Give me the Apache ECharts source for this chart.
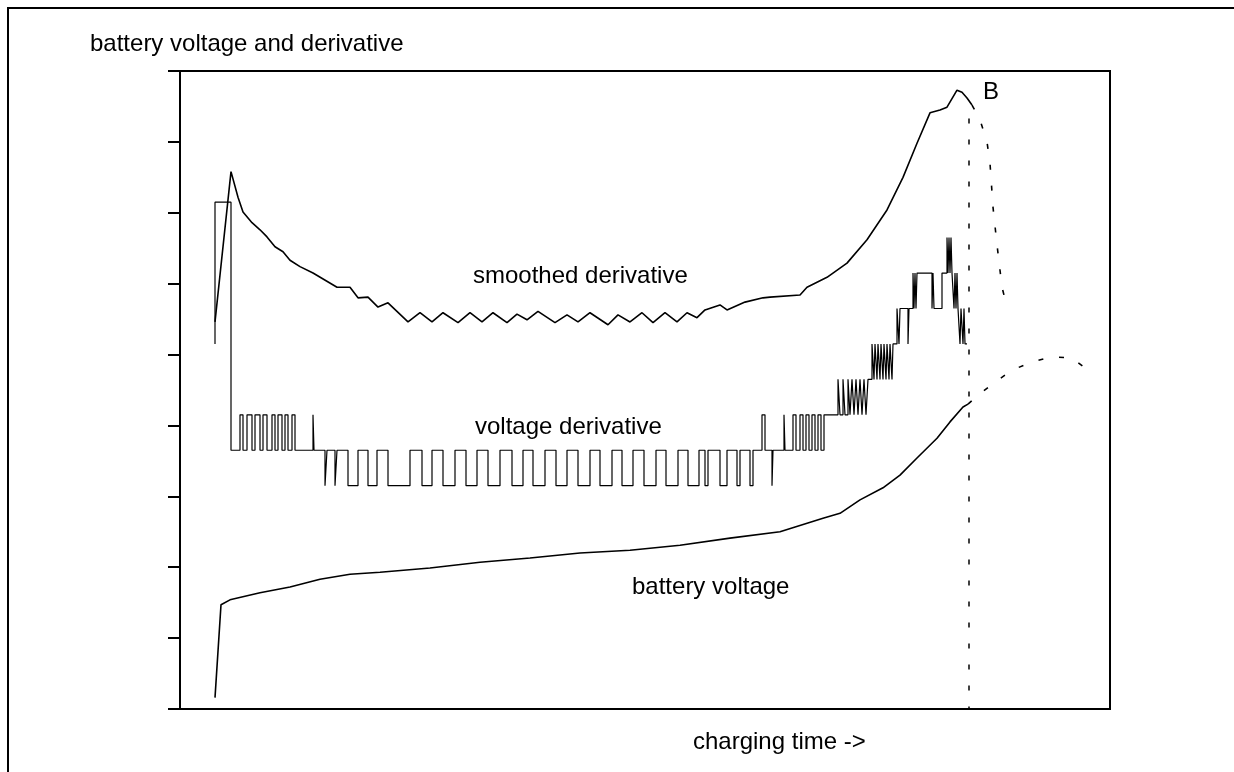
<!DOCTYPE html>
<html>
<head>
<meta charset="utf-8">
<script src="https://cdn.jsdelivr.net/npm/echarts@6/dist/echarts.min.js"></script>
<style>
html,body{margin:0;padding:0;background:#fff}
#chart{width:1234px;height:772px}
</style>
</head>
<body>
<div id="chart"></div>
<script>
// charging time in arbitrary units (0..93), values in axis tick units (0..9)
var voltX = [3.5,4.1,5.0,8.0,11.0,14.0,17.0,20.0,25.0,30.0,35.0,40.0,45.0,50.0,55.0,60.0,64.3,66.0,68.0,70.3,72.0,73.7,75.7,77.0,78.3,78.8];
var voltY = [0.16,1.47,1.54,1.64,1.72,1.83,1.90,1.93,1.99,2.07,2.13,2.20,2.24,2.31,2.41,2.50,2.69,2.76,2.95,3.12,3.30,3.54,3.82,4.05,4.26,4.30];
var voltDashX = [78.8,79.8,81.5,83.2,85.1,87.2,89.2,90.8];
var voltDashY = [4.30,4.43,4.61,4.78,4.89,4.97,4.95,4.78];

var smoothX = [3.5,5.1,5.8,6.3,7.2,8.0,8.7,9.5,10.3,11.0,12.0,13.3,15.7,17.0,17.8,18.8,19.8,20.8,22.8,24.0,25.2,26.3,27.8,29.0,30.2,31.3,32.7,33.7,34.7,35.8,37.5,38.7,39.8,41.0,42.8,43.8,45.0,46.2,47.3,48.5,49.7,50.7,51.7,52.5,54.0,54.7,56.5,58.3,59.0,62.0,62.7,64.7,66.7,68.7,70.7,72.3,73.7,75.0,76.0,76.7,77.7,78.2,78.7,79.2];
var smoothY = [5.46,7.58,7.22,7.01,6.86,6.76,6.66,6.52,6.45,6.33,6.24,6.15,5.95,5.95,5.80,5.81,5.67,5.73,5.46,5.59,5.46,5.59,5.45,5.59,5.46,5.59,5.45,5.57,5.49,5.61,5.45,5.56,5.46,5.59,5.42,5.56,5.46,5.59,5.45,5.59,5.46,5.59,5.52,5.63,5.70,5.63,5.74,5.80,5.81,5.84,5.95,6.09,6.29,6.62,7.04,7.50,7.98,8.41,8.45,8.49,8.73,8.70,8.62,8.52];
var smoothDashX = [79.2,80.0,80.7,81.0,81.3,81.7,82.2,82.7];
var smoothDashY = [8.52,8.31,8.00,7.70,7.08,6.55,5.95,5.67];

// quantized voltage derivative: value holds from each x until the next one
var derivX = [3.5,3.5,5.1,6.0,6.3,6.7,7.2,7.5,8.0,8.3,8.7,9.2,9.5,9.8,10.2,10.5,10.8,11.2,11.5,13.3,13.4,
  14.5,14.7,15.5,15.7,16.8,17.8,18.8,19.7,20.8,23.0,24.2,25.2,26.3,27.5,28.6,29.7,30.8,32.0,33.2,34.3,35.3,36.5,
  37.6,38.7,39.8,41.0,42.0,43.2,44.2,45.3,46.4,47.6,48.6,49.8,50.8,51.9,52.5,52.8,54.0,54.7,55.7,56.0,57.0,57.3,
  58.2,58.5,59.2,59.3,60.4,60.5,61.3,61.6,62.0,62.3,62.6,62.9,63.2,63.5,63.8,64.1,64.4,
  65.8,66.0,66.3,66.5,66.8,67.0,67.2,67.4,67.6,67.8,68.0,68.2,68.4,68.6,68.8,
  69.2,69.4,69.5,69.7,69.8,70.0,70.1,70.3,70.4,70.6,70.7,70.9,71.0,71.2,71.3,
  71.7,71.9,72.0,72.8,72.9,73.3,73.4,73.5,73.6,73.7,75.2,75.3,75.4,76.2,
  76.7,76.8,76.9,77.0,77.1,77.2,77.4,77.5,77.6,77.7,77.8,78.0,78.1,78.3,78.4,78.5,78.7];
var derivY = [5.15,7.15,3.65,4.15,3.65,4.15,3.65,4.15,3.65,4.15,3.65,4.15,3.65,4.15,3.65,4.15,3.65,4.15,3.65,4.15,3.65,
  3.15,3.65,3.15,3.65,3.15,3.65,3.15,3.65,3.15,3.65,3.15,3.65,3.15,3.65,3.15,3.65,3.15,3.65,3.15,3.65,3.15,3.65,
  3.15,3.65,3.15,3.65,3.15,3.65,3.15,3.65,3.15,3.65,3.15,3.65,3.15,3.65,3.15,3.65,3.15,3.65,3.15,3.65,3.15,3.65,
  4.15,3.65,3.15,3.65,4.15,3.65,4.15,3.65,4.15,3.65,4.15,3.65,4.15,3.65,4.15,3.65,4.15,
  4.65,4.15,4.65,4.15,4.65,4.15,4.65,4.15,4.65,4.15,4.65,4.15,4.65,4.15,4.65,
  5.15,4.65,5.15,4.65,5.15,4.65,5.15,4.65,5.15,4.65,5.15,4.65,5.15,4.65,5.15,
  5.65,5.15,5.65,5.15,5.65,6.15,5.65,6.15,5.65,6.15,5.65,6.15,5.65,6.15,
  6.65,6.15,6.65,6.15,6.65,6.15,5.65,6.15,5.65,6.15,5.65,5.15,5.65,5.15,5.65,5.15,5.15];

var markerX = [78.9,78.9];
var markerY = [8.33,0];

function pairs(xs, ys) {
  return xs.map(function (x, i) { return [x, ys[i]]; });
}

var chart = echarts.init(document.getElementById('chart'));
var ink = '#000';
var font = '24px "Liberation Sans", Arial, sans-serif';

function label(text, x, y) {
  return {type: 'text', x: x, y: y, style: {text: text, font: font, fill: ink, align: 'left', verticalAlign: 'middle'}};
}

var option = {
  animation: false,
  backgroundColor: '#fff',
  grid: {left: 180, top: 71, right: 124, bottom: 63, show: true, borderColor: ink, borderWidth: 2, backgroundColor: 'transparent'},
  xAxis: {
    type: 'value', min: 0, max: 93,
    axisLine: {show: true, lineStyle: {color: ink, width: 2}},
    axisTick: {show: false}, axisLabel: {show: false}, splitLine: {show: false}
  },
  yAxis: {
    type: 'value', min: 0, max: 9, interval: 1,
    axisLine: {show: true, lineStyle: {color: ink, width: 2}},
    axisTick: {show: true, length: 12, lineStyle: {color: ink, width: 2}},
    axisLabel: {show: false}, splitLine: {show: false}
  },
  graphic: [
    {type: 'polyline', shape: {points: [[8, 790], [8, 8], [1250, 8]]}, style: {stroke: ink, lineWidth: 2, fill: null}},
    label('battery voltage and derivative', 90, 44),
    label('smoothed derivative', 473, 276),
    label('voltage derivative', 475, 427),
    label('battery voltage', 632, 587),
    label('B', 983, 92),
    label('charging time ->', 693, 742)
  ],
  series: [
    {type: 'line', data: pairs(voltX, voltY), symbol: 'none', lineStyle: {color: ink, width: 1.6}},
    {type: 'line', data: pairs(voltDashX, voltDashY), symbol: 'none', lineStyle: {color: ink, width: 1.6, type: [5, 16]}},
    {type: 'line', data: pairs(smoothX, smoothY), symbol: 'none', lineStyle: {color: ink, width: 1.6}},
    {type: 'line', data: pairs(smoothDashX, smoothDashY), symbol: 'none', lineStyle: {color: ink, width: 1.6, type: [5, 16]}},
    {type: 'line', data: pairs(derivX, derivY), step: 'end', symbol: 'none', lineStyle: {color: ink, width: 1.2}},
    {type: 'line', data: pairs(markerX, markerY), symbol: 'none', lineStyle: {color: ink, width: 1.5, type: [5, 16]}}
  ]
};
chart.setOption(option);
</script>
</body>
</html>
